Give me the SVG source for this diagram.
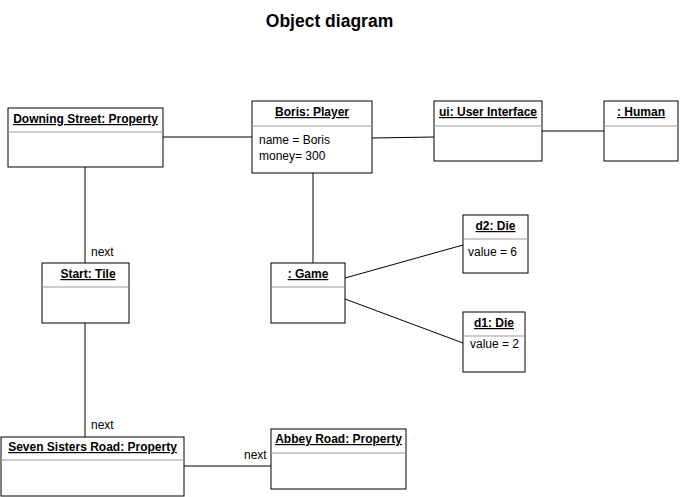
<svg xmlns="http://www.w3.org/2000/svg" width="680" height="497" viewBox="0 0 680 497">
<style>
.box{fill:#fff;stroke:#000;stroke-width:1}
.sep{stroke:#999;stroke-width:1}
.t{font-family:"Liberation Sans",Arial,sans-serif;font-size:12px;fill:#000}
.h{text-decoration:underline;font-weight:bold;text-anchor:middle}
.c{stroke:#000;stroke-width:1;fill:none}
.title{font-family:"Liberation Sans",Arial,sans-serif;font-size:17.5px;font-weight:bold;text-anchor:middle}
</style>
<rect width="680" height="497" fill="#fff"/>
<text class="title" x="329.5" y="27">Object diagram</text>
<g id="connectors">
<line class="c" x1="163" y1="137" x2="252" y2="137"/>
<line class="c" x1="372" y1="138" x2="434" y2="137"/>
<line class="c" x1="542" y1="131" x2="604" y2="131"/>
<line class="c" x1="85" y1="167" x2="85" y2="263"/>
<line class="c" x1="313" y1="173" x2="313" y2="263"/>
<line class="c" x1="345" y1="278" x2="463" y2="245"/>
<line class="c" x1="345" y1="299" x2="463" y2="343"/>
<line class="c" x1="85" y1="323" x2="85" y2="437"/>
<line class="c" x1="184" y1="466" x2="271" y2="466"/>
<text class="t" x="91" y="256">next</text>
<text class="t" x="91" y="429">next</text>
<text class="t" x="244" y="459">next</text>
</g>
<g id="downing">
<rect class="box" x="8" y="108" width="155" height="59"/>
<line class="sep" x1="8" y1="132" x2="163" y2="132"/>
<text class="t h" x="85.5" y="123">Downing Street: Property</text>
</g>
<g id="boris">
<rect class="box" x="252" y="101" width="120" height="72"/>
<line class="sep" x1="252" y1="126" x2="372" y2="126"/>
<text class="t h" x="312" y="116">Boris: Player</text>
<text class="t" x="259" y="144">name = Boris</text>
<text class="t" x="259" y="160">money= 300</text>
</g>
<g id="ui">
<rect class="box" x="434" y="101" width="108" height="60"/>
<line class="sep" x1="434" y1="126" x2="542" y2="126"/>
<text class="t h" x="488" y="116">ui: User Interface</text>
</g>
<g id="human">
<rect class="box" x="604" y="101" width="74" height="60"/>
<line class="sep" x1="604" y1="126" x2="678" y2="126"/>
<text class="t h" x="641" y="116">: Human</text>
</g>
<g id="start">
<rect class="box" x="42" y="263" width="87" height="60"/>
<line class="sep" x1="42" y1="287" x2="129" y2="287"/>
<text class="t h" x="88" y="278">Start: Tile</text>
</g>
<g id="game">
<rect class="box" x="271" y="263" width="74" height="60"/>
<line class="sep" x1="271" y1="287" x2="345" y2="287"/>
<text class="t h" x="308" y="278">: Game</text>
</g>
<g id="d2">
<rect class="box" x="463" y="215" width="65" height="58"/>
<line class="sep" x1="463" y1="239" x2="528" y2="239"/>
<text class="t h" x="495.5" y="230">d2: Die</text>
<text class="t" x="468" y="256">value = 6</text>
</g>
<g id="d1">
<rect class="box" x="463" y="312" width="62" height="60"/>
<line class="sep" x1="463" y1="336" x2="525" y2="336"/>
<text class="t h" x="494" y="327">d1: Die</text>
<text class="t" x="470" y="348">value = 2</text>
</g>
<g id="seven">
<rect class="box" x="1" y="437" width="183" height="59"/>
<line class="sep" x1="1" y1="460" x2="184" y2="460"/>
<text class="t h" x="92.5" y="451">Seven Sisters Road: Property</text>
</g>
<g id="abbey">
<rect class="box" x="271" y="429" width="135" height="60"/>
<line class="sep" x1="271" y1="453" x2="406" y2="453"/>
<text class="t h" x="338.5" y="443">Abbey Road: Property</text>
</g>
</svg>
